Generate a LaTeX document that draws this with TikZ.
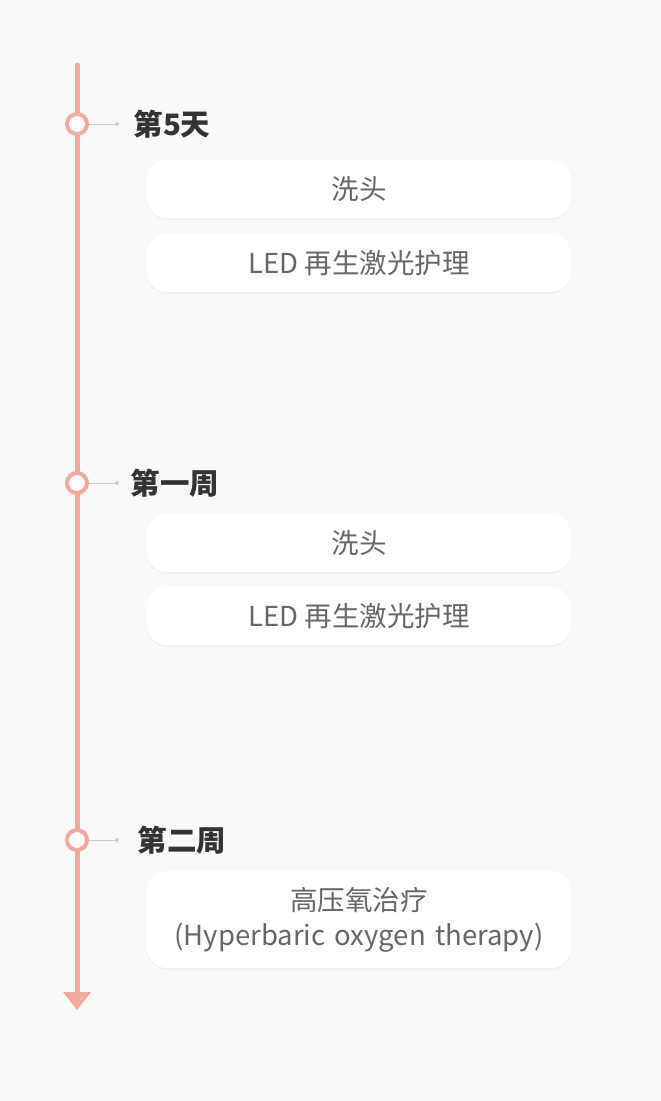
\documentclass[tikz,border=0pt]{standalone}
\usepackage{fontspec}
\setmainfont{Noto Sans CJK SC}
\usetikzlibrary{positioning,shadows}
\definecolor{linepink}{HTML}{F4A9A0}
\definecolor{bggray}{HTML}{F9F9F9}
\definecolor{textgray}{HTML}{666666}
\definecolor{stepdark}{HTML}{333333}
\tikzset{
    daybox/.style={rectangle, rounded corners=20pt, fill=white, minimum width=424pt,
      minimum height=58pt, inner sep=0, font=\fontsize{27.5}{35}\selectfont, text=textgray,
      align=center, drop shadow={shadow xshift=0pt, shadow yshift=-2pt, opacity=0.06}},
    mark dot/.style={circle, draw=linepink, line width=4pt, fill=white, minimum size=20pt, inner sep=0},
    steplabel/.style={font=\fontsize{29.5}{34}\selectfont\bfseries, text=stepdark, anchor=west},
    tick/.style={draw=black!20, line width=1pt},
  }
\begin{document}
\begin{tikzpicture}[x=1pt, y=-1pt]
  \fill[bggray] (0,0) rectangle (661,1101);
  \useasboundingbox (0,0) rectangle (661,1101);
  % time axis
  \coordinate (top) at (77,65);
  \coordinate (bottom) at (77,993);
  \draw[linepink, line width=5pt, line cap=round] (top) -- (bottom);
  \fill[linepink] (63,992) -- (91,992) -- (77,1010) -- cycle;
  % stages
  \node (m1) [mark dot] at (77,124) {};
  \node (m2) [mark dot] at (77,483) {};
  \node (m3) [mark dot] at (77,840) {};
  \coordinate (t1) at (117,124);
  \coordinate (t2) at (117,483);
  \coordinate (t3) at (117,840);
  \draw[tick] (m1) -- (t1); \fill[black!20] (t1) circle (2pt);
  \draw[tick] (m2) -- (t2); \fill[black!20] (t2) circle (2pt);
  \draw[tick] (m3) -- (t3); \fill[black!20] (t3) circle (2pt);
  \node (s1) [steplabel] at (130,124) {第5天};
  \node (s2) [steplabel] at (127,483) {第一周};
  \node (s3) [steplabel] at (134,840) {第二周};
  % treatments
  \node (b1) [daybox] at (359,189) {洗头};
  \node (b2) [daybox] at (359,263) {LED 再生激光护理};
  \node (b3) [daybox] at (359,543) {洗头};
  \node (b4) [daybox] at (359,616) {LED 再生激光护理};
  \node (b5) [daybox, minimum height=97pt, text width=420pt] at (359,919.5)
    {高压氧治疗\\(Hyperbaric oxygen therapy)};
\end{tikzpicture}
\end{document}
